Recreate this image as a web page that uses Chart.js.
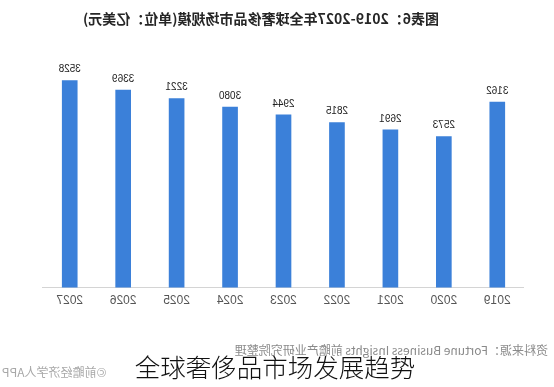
<!DOCTYPE html>
<html>
<head>
<meta charset="utf-8">
<script src="https://cdn.jsdelivr.net/npm/chart.js@4"></script>
<style>
  body { margin: 0; background: #fff; }
  #wrap { position: relative; width: 554px; height: 387px; transform: scaleX(-1); }
  #chart { position: absolute; left: 0; top: 0; }
  #title {
    position: absolute; left: 293px; top: 8px; transform: translateX(-50%);
    white-space: nowrap; font: bold 14px "Noto Sans CJK SC", sans-serif; color: #262626; line-height: 20px;
  }
  #source {
    position: absolute; left: 6px; top: 342px; white-space: nowrap;
    font: 12px "Noto Sans CJK SC", sans-serif; color: #8a8a8a; line-height: 16px;
  }
  #app {
    position: absolute; right: 2px; top: 364px; white-space: nowrap;
    font: 12px "Noto Sans CJK SC", sans-serif; color: #a8a8a8; line-height: 16px;
  }
  #caption {
    position: absolute; left: 275px; top: 349px; transform: translateX(-50%);
    white-space: nowrap; font: 300 25.5px "Noto Sans CJK SC", sans-serif; color: #111; line-height: 34px;
  }
</style>
</head>
<body>
<div id="wrap">
  <canvas id="chart" width="554" height="387"></canvas>
  <div id="title">图表6：2019-2027年全球奢侈品市场规模(单位：亿美元)</div>
  <div id="source">资料来源：Fortune Business Insights 前瞻产业研究院整理</div>
  <div id="app">©前瞻经济学人APP</div>
</div>
<div id="caption">全球奢侈品市场发展趋势</div>

<script>
// 2019-2027 global luxury market size (100M USD)
const years = ['2019', '2020', '2021', '2022', '2023', '2024', '2025', '2026', '2027'];
const marketSize = [3162, 2573, 2691, 2815, 2944, 3080, 3221, 3369, 3528];

// value labels above each bar
const valueLabels = {
    id: 'valueLabels',
    afterDatasetsDraw(chart) {
        const ctx = chart.ctx;
        const meta = chart.getDatasetMeta(0);
        ctx.save();
        ctx.font = '10px "Liberation Sans", sans-serif';
        ctx.fillStyle = '#222';
        ctx.textAlign = 'center';
        ctx.textBaseline = 'middle';
        meta.data.forEach((bar, i) => {
            ctx.fillText(String(marketSize[i]), bar.x, bar.y - 11);
        });
        ctx.restore();
    }
};

new Chart(document.getElementById('chart'), {
    type: 'bar',
    data: {
        labels: years,
        datasets: [{
            data: marketSize,
            backgroundColor: '#3b80d9',
            barThickness: 15
        }]
    },
    options: {
        responsive: false,
        animation: false,
        layout: { padding: { top: 53, left: 30, right: 43, bottom: 73 } },
        plugins: {
            legend: { display: false },
            tooltip: { enabled: false }
        },
        scales: {
            x: {
                grid: { display: false, drawTicks: false },
                border: { display: true, color: '#d4d4d4', width: 1 },
                ticks: {
                    padding: 6,
                    color: '#555',
                    font: { family: '"Liberation Sans", sans-serif', size: 12 }
                }
            },
            y: {
                display: false,
                min: 0,
                max: 4000
            }
        }
    },
    plugins: [valueLabels]
});
</script>
</body>
</html>
